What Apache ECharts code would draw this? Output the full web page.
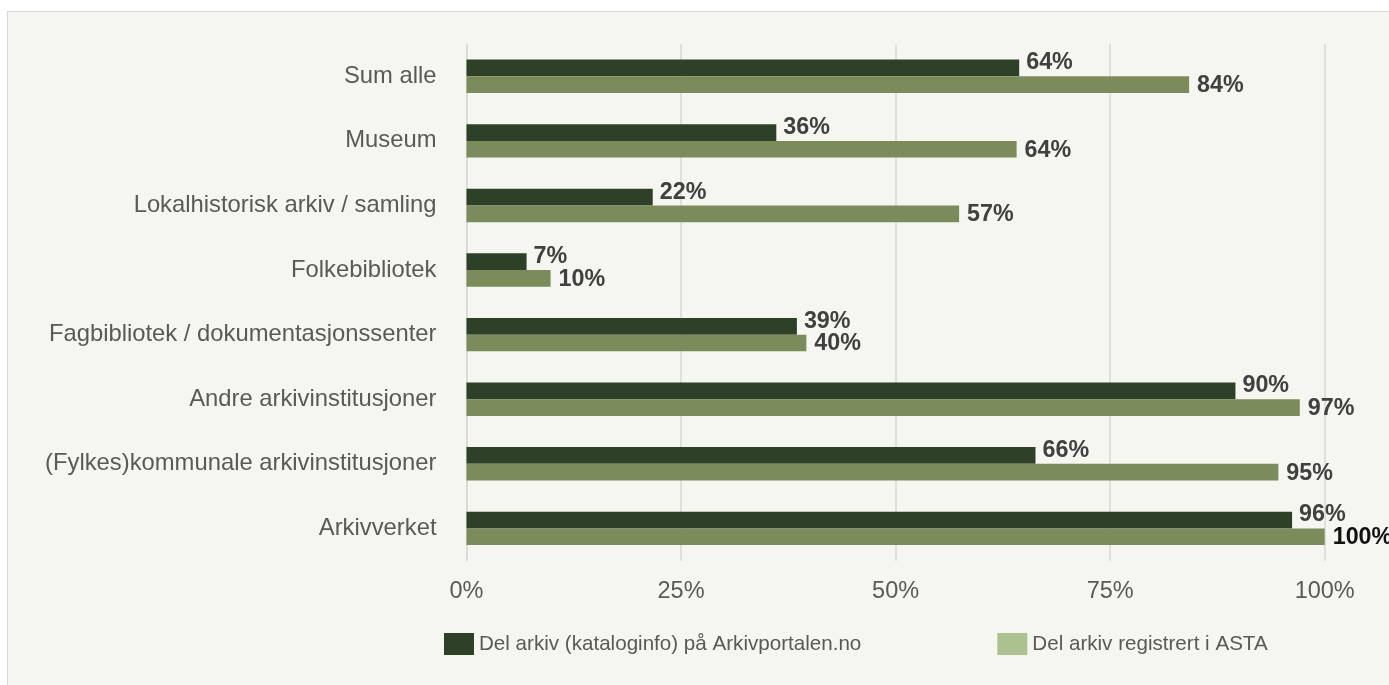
<!doctype html>
<html lang="no">
  <head>
    <meta charset="UTF-8" />
    <title>Del arkiv</title>
    <style>
      html,
      body {
        width: 100%;
        height: 100%;
        margin: 0;
        padding: 0;
        background: #ffffff;
        overflow: hidden;
      }
      #frame {
        position: absolute;
        left: 7px;
        top: 11px;
        right: -2px;
        bottom: -2px;
        background: #f4f6ef;
        border-left: 1px solid #d6d6d6;
        border-top: 1px solid #d6d6d6;
      }
      #Echart {
        position: absolute;
        left: 0;
        top: 0;
        width: 1389px;
        height: 685px;
      }
    </style>
  </head>

  <body>
    <div id="frame"></div>
    <div id="Echart"></div>
    <script src="https://cdn.jsdelivr.net/npm/echarts@6/dist/echarts.min.js"></script>
    <script>
      // categories, top to bottom
      const categories = [
        'Sum alle',
        'Museum',
        'Lokalhistorisk arkiv / samling',
        'Folkebibliotek',
        'Fagbibliotek / dokumentasjonssenter',
        'Andre arkivinstitusjoner',
        '(Fylkes)kommunale arkivinstitusjoner',
        'Arkivverket',
      ]
      const seriesNames = ['Del arkiv (kataloginfo) på Arkivportalen.no', 'Del arkiv registrert i ASTA']
      // andel (0-1)
      const portalen = [0.644, 0.361, 0.217, 0.07, 0.385, 0.896, 0.663, 0.962]
      const asta = [0.842, 0.641, 0.574, 0.098, 0.396, 0.971, 0.946, 1.0]
      const xTicks = [0, 0.25, 0.5, 0.75, 1]

      const font = 'Liberation Sans, Arial, Helvetica, sans-serif'
      const pct = (v) => Math.round(v * 100) + '%'

      let chart = null
      function initEchart() {
        const option = {
          animation: false,
          textStyle: { fontFamily: font },
          legend: {
            left: 444,
            top: 633,
            padding: 0,
            icon: 'rect',
            itemWidth: 30,
            itemHeight: 22,
            itemGap: 136,
            textStyle: { color: '#595959', fontSize: 20.6, fontFamily: font },
            data: [
              { name: seriesNames[0], itemStyle: { color: '#2f4029' } },
              { name: seriesNames[1], itemStyle: { color: '#adc08f' } },
            ],
          },
          grid: {
            left: 466.5,
            right: 64.3,
            top: 44,
            bottom: 124.3,
            containLabel: false,
          },
          xAxis: {
            type: 'value',
            min: xTicks[0],
            max: xTicks[xTicks.length - 1],
            interval: 0.25,
            axisLine: { show: false },
            axisTick: { show: false },
            splitLine: { show: true, lineStyle: { color: '#d9d9d9', width: 1.5 } },
            axisLabel: {
              margin: 19,
              color: '#595959',
              fontSize: 23.5,
              fontFamily: font,
              formatter: (v) => pct(v),
            },
          },
          yAxis: {
            type: 'category',
            inverse: true,
            data: categories,
            axisLine: { show: true, lineStyle: { color: '#d9d9d9', width: 1.5 } },
            axisTick: { show: false },
            axisLabel: {
              margin: 30,
              color: '#595959',
              fontSize: 23.8,
              fontFamily: font,
            },
          },
          series: [
            {
              name: seriesNames[0],
              type: 'bar',
              data: portalen,
              barWidth: 16.7,
              barGap: '0%',
              itemStyle: { color: '#2f4029' },
              label: {
                show: true,
                position: 'right',
                distance: 7,
                offset: [0, -5],
                color: '#404040',
                fontSize: 23.3,
                fontWeight: 'bold',
                fontFamily: font,
                formatter: (p) => pct(p.value),
              },
            },
            {
              name: seriesNames[1],
              type: 'bar',
              data: asta.map((v) => (v >= 1 ? { value: v, label: { color: '#111111' } } : v)),
              barWidth: 16.7,
              barGap: '0%',
              itemStyle: { color: '#7b8b5b' },
              label: {
                show: true,
                position: 'right',
                distance: 8,
                offset: [0, 1],
                color: '#404040',
                fontSize: 23.3,
                fontWeight: 'bold',
                fontFamily: font,
                formatter: (p) => pct(p.value),
              },
            },
          ],
        }
        chart = echarts.init(document.getElementById('Echart'))
        chart.setOption(option)
      }
      window.onload = function () {
        initEchart()
      }
    </script>
  </body>
</html>
